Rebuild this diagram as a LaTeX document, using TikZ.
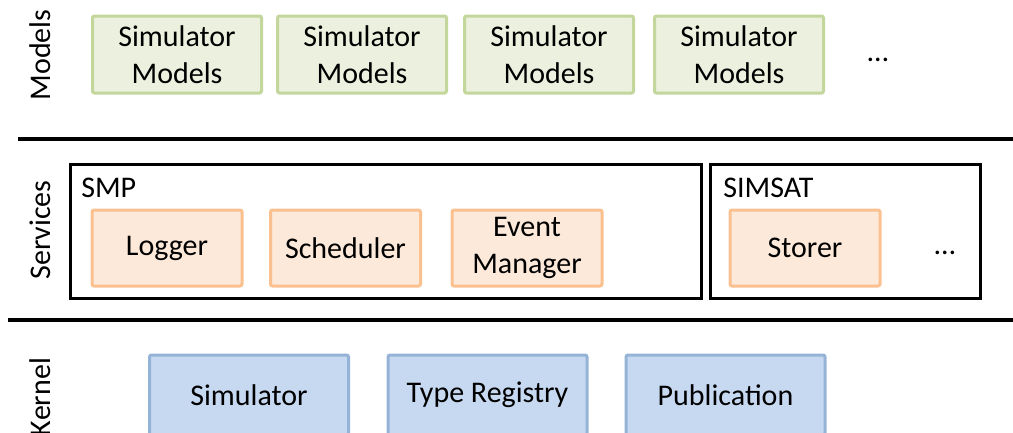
\documentclass[tikz,border=0pt]{standalone}
\usepackage{fontspec}
\setmainfont{Carlito}
\usetikzlibrary{positioning}

\definecolor{modelFill}{HTML}{EBF1DE}
\definecolor{modelLine}{HTML}{C3D69B}
\definecolor{serviceFill}{HTML}{FDE9D9}
\definecolor{serviceLine}{HTML}{FAC090}
\definecolor{kernelFill}{HTML}{C6D9F1}
\definecolor{kernelLine}{HTML}{95B3D7}

\tikzset{
  boxtext/.style={font=\fontsize{22.5}{27.5}\selectfont, align=center, inner sep=0.75pt},
  modelbox/.style={boxtext, draw=modelLine, fill=modelFill, line width=2.25pt, rounded corners=1.5pt, minimum width=126.75pt, minimum height=57.75pt},
  servicebox/.style={boxtext, draw=serviceLine, fill=serviceFill, line width=2.25pt, rounded corners=1.5pt, minimum width=112.5pt, minimum height=57pt},
  kernelbox/.style={boxtext, draw=kernelLine, fill=kernelFill, line width=2.25pt, rounded corners=1.5pt, minimum width=149.25pt, minimum height=60pt},
  groupframe/.style={draw=black, line width=2.25pt, minimum height=100.5pt, inner sep=0pt},
  grouptitle/.style={font=\fontsize{22.5}{26}\selectfont, anchor=base west, inner sep=0.75pt},
  layerlabel/.style={boxtext, rotate=90},
  layerline/.style={line width=3pt}
}

\begin{document}
\begin{tikzpicture}[x=0.75pt,y=0.75pt,yscale=-1,xscale=1]
\useasboundingbox (0,0) rectangle (1013,432);

%Layer separators
\draw[layerline] (18,139) -- (1013,139) ;
\draw[layerline] (8,320) -- (1013,320) ;

% Text Node
\node[layerlabel] (lblModels) at (40,55) {Models};
\node[layerlabel] (lblServices) at (40,230) {Services};
\node[layerlabel] (lblKernel) at (40,397) {Kernel};

%Models
\node[modelbox] (model1) at (177,54.5) {Simulator\\Models};
\node[modelbox] (model2) at (362,54.5) {Simulator\\Models};
\node[modelbox] (model3) at (549,54.5) {Simulator\\Models};
\node[modelbox] (model4) at (739,54.5) {Simulator\\Models};
\node[boxtext] (modelMore) at (878,60) {…};

%Services: frames
\node[groupframe, minimum width=473.25pt] (smp) at (385.5,231) {};
\node[groupframe, minimum width=202.5pt] (simsat) at (845,231) {};
\node[grouptitle] (smpTitle) at (80,197) {SMP};
\node[grouptitle] (simsatTitle) at (722,197) {SIMSAT};

%Services
\node[servicebox] (logger) at (167,248) {Logger};
\node[servicebox] (scheduler) at (345.5,248) {Scheduler};
\node[servicebox] (eventMgr) at (527,248) {Event\\Manager};
\node[servicebox] (storer) at (805,248) {Storer};
\node[boxtext] (serviceMore) at (945,253) {…};

%Kernel
\node[kernelbox] (simulator) at (249,395) {Simulator};
\node[kernelbox] (typeRegistry) at (487.5,395) {Type Registry};
\node[kernelbox] (publication) at (725.5,395) {Publication};

\end{tikzpicture}
\end{document}
